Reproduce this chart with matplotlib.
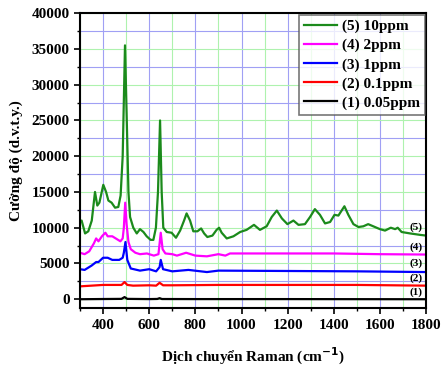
import matplotlib
matplotlib.use("Agg")
import matplotlib.pyplot as plt
from matplotlib.ticker import MultipleLocator
import numpy as np

# Series data (Raman shift cm^-1, intensity)
x5 = [300,307,322,336,351,365,375,384,401,413,423,437,452,466,476,485,495,502,510,517,531,546,560,575,589,606,618,629,638,647,654,661,676,697,716,734,751,762,777,791,809,825,838,852,874,892,903,914,936,965,994,1022,1054,1080,1109,1131,1153,1175,1199,1225,1247,1275,1297,1318,1340,1362,1384,1403,1420,1446,1463,1485,1507,1528,1549,1571,1600,1622,1647,1666,1677,1694,1731,1774,1800]
y5 = [10800,11000,9200,9500,11000,15000,13100,13500,16000,15000,13800,13500,12800,12900,14500,20000,35500,26000,15000,11500,10000,9200,9800,9400,8800,8300,8300,10000,15000,25000,15000,10000,9400,9300,8600,9600,11000,12000,11000,9500,9500,9900,9200,8700,8900,9700,10000,9300,8500,8800,9400,9700,10400,9700,10200,11500,12400,11300,10500,11000,10400,10500,11500,12600,11800,10600,10800,11800,11700,13000,11800,10500,10100,10200,10500,10200,9800,9600,10000,9800,10000,9400,9200,9000,8900]

x4 = [300,320,340,360,370,380,395,410,420,440,460,475,485,490,496,502,510,520,540,560,590,620,640,650,658,670,700,720,760,800,850,900,930,950,1000,1200,1400,1600,1800]
y4 = [6500,6300,6700,7800,8500,8100,8800,9300,8800,8800,8400,8100,8500,10000,13500,10500,8000,7000,6500,6300,6400,6100,6300,9300,7000,6400,6300,6100,6500,6100,6000,6300,6100,6400,6400,6400,6400,6300,6250]

x3 = [300,320,350,370,380,400,420,440,470,485,490,497,505,520,560,600,630,645,650,660,700,770,850,900,1200,1500,1800]
y3 = [4200,4100,4700,5200,5200,5800,5800,5500,5500,5800,6500,8000,5500,4300,4000,4200,3900,4500,5500,4200,3900,4100,3800,4000,3950,3900,3800]

x2 = [300,350,400,480,493,505,530,600,630,645,660,700,900,1200,1500,1800]
y2 = [1800,1900,2000,2000,2400,2000,1900,1950,1900,2300,1950,1950,2000,2000,2000,1900]

x1 = [300,400,480,493,505,600,635,645,655,800,1200,1800]
y1 = [0,30,50,300,50,20,40,150,30,20,20,0]

labels = ["(5) 10ppm", "(4) 2ppm", "(3) 1ppm", "(2) 0.1ppm", "(1) 0.05ppm"]
tags = ["(5)", "(4)", "(3)", "(2)", "(1)"]
tag_y = [10100, 7300, 5000, 3000, 970]
colors = ["#1b8a1b", "#ff00ff", "#0000ff", "#ff0000", "#000000"]

plt.rcParams['font.family'] = ['Liberation Serif', 'DejaVu Serif']
plt.rcParams['font.weight'] = 'bold'

fig = plt.figure(figsize=(4.42, 3.66), dpi=100)
ax = fig.add_axes([0.181, 0.158, 0.783, 0.806])

# grid
ax.set_xlim(300, 1800)
ax.set_ylim(-1250, 40000)
ax.xaxis.set_major_locator(MultipleLocator(200))
ax.xaxis.set_minor_locator(MultipleLocator(100))
ax.yaxis.set_major_locator(MultipleLocator(5000))
ax.yaxis.set_minor_locator(MultipleLocator(2500))
ax.grid(True, which='major', axis='x', color='#a0a0f4', lw=0.8)
ax.grid(True, which='minor', axis='x', color='#aef2ae', lw=0.8)
ax.grid(True, which='major', axis='y', color='#aef2ae', lw=0.8)
ax.grid(True, which='minor', axis='y', color='#a0a0f4', lw=0.8)
ax.set_axisbelow(True)

series = [(x5, y5), (x4, y4), (x3, y3), (x2, y2), (x1, y1)]
for (xs, ys), lab, c in zip(series, labels, colors):
    ax.plot(xs, ys, color=c, lw=1.6, label=lab)

for t, ty in zip(tags, tag_y):
    ax.text(1755, ty, t, fontsize=8, fontweight='bold', ha='center', va='center')

ax.tick_params(which='major', direction='out', length=4, width=1.2, labelsize=11)
ax.tick_params(which='minor', direction='out', length=2.5, width=1)
for lab in ax.get_xticklabels() + ax.get_yticklabels():
    lab.set_fontweight('bold')
for s in ax.spines.values():
    s.set_linewidth(1.5)

ax.set_xlabel("Dịch chuyển Raman (cm$^{\\mathbf{-1}}$)", fontsize=11, fontweight='bold', labelpad=10)
ax.set_ylabel("Cường độ (d.v.t.y.)", fontsize=11, fontweight='bold', labelpad=6)

leg = ax.legend(loc='upper right', fontsize=11, frameon=True, fancybox=False,
                edgecolor='#555555', handlelength=2.2, handletextpad=0.3,
                borderpad=0.3, labelspacing=0.35, borderaxespad=0.1,
                prop={'weight': 'bold', 'size': 11})
leg.get_frame().set_linewidth(1.2)

fig.savefig("out.png", dpi=100)
